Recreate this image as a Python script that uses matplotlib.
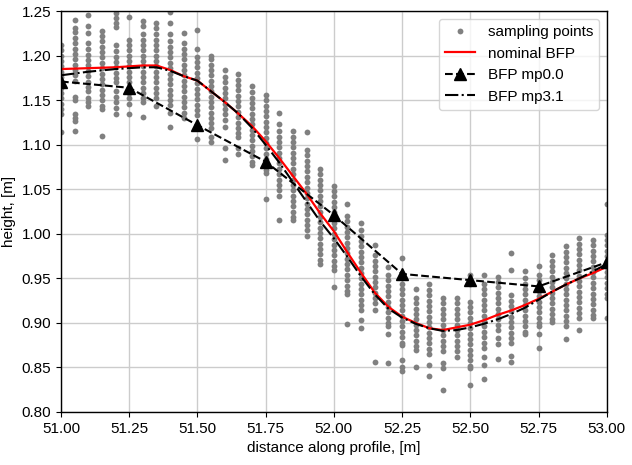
import matplotlib
matplotlib.use('Agg')
import matplotlib.pyplot as plt

plt.rcParams['font.family'] = ['Liberation Sans', 'DejaVu Sans']
plt.rcParams['font.size'] = 11

# columns of sampling points, one every 0.05 m
sample_x = [51.00, 51.05, 51.10, 51.15, 51.20, 51.25, 51.30, 51.35, 51.40, 51.45,
            51.50, 51.55, 51.60, 51.65, 51.70, 51.75, 51.80, 51.85, 51.90, 51.95,
            52.00, 52.05, 52.10, 52.15, 52.20, 52.25, 52.30, 52.35, 52.40, 52.45,
            52.50, 52.55, 52.60, 52.65, 52.70, 52.75, 52.80, 52.85, 52.90, 52.95,
            53.00]

sample_h = [
    [1.212, 1.206, 1.200, 1.194, 1.188, 1.182, 1.176, 1.170, 1.164, 1.158, 1.152, 1.146, 1.140, 1.134, 1.114],
    [1.240, 1.231, 1.227, 1.220, 1.214, 1.208, 1.202, 1.196, 1.190, 1.184, 1.178, 1.172, 1.154, 1.150, 1.135, 1.130, 1.127, 1.115],
    [1.246, 1.233, 1.225, 1.214, 1.207, 1.201, 1.195, 1.189, 1.183, 1.177, 1.171, 1.165, 1.160, 1.152, 1.148, 1.143],
    [1.228, 1.222, 1.216, 1.210, 1.204, 1.198, 1.192, 1.186, 1.180, 1.174, 1.168, 1.162, 1.156, 1.150, 1.144, 1.140, 1.110],
    [1.248, 1.242, 1.237, 1.232, 1.212, 1.205, 1.199, 1.193, 1.187, 1.181, 1.175, 1.170, 1.160, 1.154, 1.148, 1.141, 1.135],
    [1.244, 1.218, 1.212, 1.206, 1.200, 1.194, 1.188, 1.182, 1.176, 1.170, 1.164, 1.158, 1.152, 1.146, 1.134],
    [1.239, 1.233, 1.224, 1.218, 1.212, 1.206, 1.200, 1.194, 1.188, 1.182, 1.176, 1.170, 1.164, 1.158, 1.152, 1.148, 1.131],
    [1.237, 1.231, 1.224, 1.218, 1.212, 1.206, 1.200, 1.194, 1.188, 1.182, 1.176, 1.170, 1.164, 1.158, 1.152, 1.143],
    [1.249, 1.237, 1.224, 1.216, 1.210, 1.204, 1.198, 1.192, 1.186, 1.180, 1.174, 1.168, 1.162, 1.156, 1.150, 1.145, 1.136, 1.120],
    [1.225, 1.214, 1.208, 1.202, 1.196, 1.190, 1.184, 1.178, 1.172, 1.166, 1.160, 1.154, 1.148, 1.142, 1.136, 1.130],
    [1.229, 1.207, 1.199, 1.193, 1.187, 1.181, 1.175, 1.169, 1.163, 1.157, 1.151, 1.145, 1.139, 1.133, 1.120, 1.107],
    [1.200, 1.196, 1.190, 1.184, 1.178, 1.172, 1.166, 1.160, 1.154, 1.148, 1.142, 1.136, 1.130, 1.124, 1.119, 1.109, 1.103],
    [1.184, 1.176, 1.170, 1.164, 1.158, 1.152, 1.146, 1.140, 1.134, 1.128, 1.120, 1.096, 1.083],
    [1.180, 1.173, 1.167, 1.161, 1.155, 1.149, 1.143, 1.137, 1.131, 1.125, 1.119, 1.113, 1.109, 1.096, 1.090],
    [1.166, 1.159, 1.153, 1.147, 1.141, 1.135, 1.129, 1.123, 1.117, 1.111, 1.105, 1.099, 1.093, 1.087, 1.081, 1.077],
    [1.156, 1.150, 1.144, 1.138, 1.132, 1.126, 1.120, 1.114, 1.108, 1.102, 1.096, 1.090, 1.084, 1.078, 1.072, 1.068, 1.039],
    [1.136, 1.123, 1.115, 1.109, 1.103, 1.097, 1.091, 1.085, 1.079, 1.073, 1.067, 1.061, 1.055, 1.049, 1.043, 1.016],
    [1.116, 1.109, 1.103, 1.097, 1.091, 1.085, 1.079, 1.073, 1.067, 1.061, 1.055, 1.049, 1.043, 1.037, 1.031, 1.025, 1.019, 1.015],
    [1.114, 1.094, 1.088, 1.082, 1.076, 1.070, 1.064, 1.058, 1.052, 1.046, 1.040, 1.034, 1.028, 1.022, 1.016, 1.010, 1.004, 0.998],
    [1.073, 1.067, 1.061, 1.055, 1.049, 1.043, 1.037, 1.031, 1.025, 1.019, 1.013, 1.007, 1.001, 0.995, 0.989, 0.983, 0.977, 0.971, 0.966],
    [1.054, 1.048, 1.042, 1.036, 1.030, 1.024, 1.018, 1.012, 1.006, 1.000, 0.994, 0.988, 0.982, 0.976, 0.970, 0.964, 0.959, 0.940],
    [1.033, 1.020, 1.014, 1.008, 1.002, 0.996, 0.990, 0.984, 0.978, 0.972, 0.966, 0.960, 0.954, 0.948, 0.942, 0.936, 0.933, 0.899],
    [1.012, 1.004, 0.998, 0.992, 0.986, 0.980, 0.974, 0.968, 0.962, 0.956, 0.950, 0.944, 0.938, 0.932, 0.926, 0.920, 0.915, 0.903, 0.894],
    [0.987, 0.976, 0.970, 0.964, 0.958, 0.952, 0.946, 0.940, 0.934, 0.928, 0.922, 0.915, 0.856],
    [0.963, 0.954, 0.948, 0.942, 0.936, 0.930, 0.924, 0.918, 0.912, 0.906, 0.900, 0.896, 0.888, 0.855],
    [0.973, 0.950, 0.944, 0.938, 0.932, 0.926, 0.920, 0.914, 0.908, 0.902, 0.896, 0.890, 0.884, 0.878, 0.875, 0.858, 0.851, 0.846],
    [0.938, 0.928, 0.922, 0.916, 0.910, 0.904, 0.898, 0.892, 0.886, 0.880, 0.874, 0.870, 0.851],
    [0.944, 0.937, 0.931, 0.925, 0.919, 0.913, 0.907, 0.901, 0.895, 0.889, 0.883, 0.877, 0.871, 0.865, 0.853, 0.840],
    [0.928, 0.922, 0.916, 0.910, 0.904, 0.898, 0.892, 0.886, 0.880, 0.874, 0.868, 0.855, 0.849, 0.825],
    [0.928, 0.922, 0.916, 0.910, 0.904, 0.898, 0.892, 0.886, 0.880, 0.874, 0.868, 0.862],
    [0.954, 0.944, 0.924, 0.918, 0.912, 0.906, 0.900, 0.894, 0.888, 0.882, 0.876, 0.870, 0.864, 0.858, 0.852, 0.849, 0.830],
    [0.954, 0.944, 0.938, 0.932, 0.926, 0.920, 0.914, 0.908, 0.902, 0.896, 0.890, 0.884, 0.878, 0.872, 0.862, 0.853, 0.837],
    [0.951, 0.946, 0.940, 0.934, 0.928, 0.922, 0.916, 0.910, 0.904, 0.898, 0.892, 0.883, 0.876, 0.859],
    [0.979, 0.959, 0.931, 0.925, 0.919, 0.913, 0.907, 0.901, 0.895, 0.889, 0.883, 0.877, 0.863, 0.856],
    [0.958, 0.950, 0.944, 0.938, 0.932, 0.926, 0.920, 0.914, 0.908, 0.902, 0.896, 0.890, 0.887],
    [0.964, 0.954, 0.948, 0.942, 0.936, 0.930, 0.924, 0.918, 0.912, 0.906, 0.900, 0.896, 0.888, 0.872],
    [0.976, 0.970, 0.964, 0.958, 0.952, 0.946, 0.940, 0.934, 0.928, 0.922, 0.916, 0.910, 0.904, 0.901],
    [0.986, 0.980, 0.974, 0.968, 0.962, 0.956, 0.950, 0.944, 0.938, 0.932, 0.926, 0.920, 0.914, 0.908, 0.902, 0.896, 0.882],
    [0.995, 0.989, 0.983, 0.977, 0.971, 0.965, 0.959, 0.953, 0.947, 0.941, 0.935, 0.929, 0.923, 0.917, 0.911, 0.905, 0.892],
    [0.993, 0.987, 0.981, 0.975, 0.969, 0.963, 0.957, 0.951, 0.945, 0.939, 0.933, 0.927, 0.921, 0.915, 0.909, 0.905],
    [1.033, 0.999, 0.993, 0.987, 0.981, 0.975, 0.969, 0.963, 0.957, 0.951, 0.945, 0.939, 0.933, 0.928, 0.906],
]

# best fit profiles
bfp_x = [51.00, 51.10, 51.20, 51.30, 51.35, 51.40, 51.45, 51.50, 51.55, 51.60,
         51.65, 51.70, 51.75, 51.80, 51.85, 51.90, 51.95, 52.00, 52.05, 52.10,
         52.15, 52.20, 52.25, 52.30, 52.35, 52.40, 52.45, 52.50, 52.55, 52.60,
         52.65, 52.70, 52.75, 52.80, 52.85, 52.90, 52.95, 53.00]
nominal = [1.185, 1.186, 1.187, 1.189, 1.189, 1.184, 1.177, 1.172, 1.160, 1.148,
           1.135, 1.121, 1.104, 1.085, 1.065, 1.045, 1.023, 1.003, 0.979, 0.956,
           0.934, 0.918, 0.907, 0.900, 0.894, 0.892, 0.895, 0.898, 0.903, 0.909,
           0.914, 0.920, 0.927, 0.935, 0.943, 0.950, 0.956, 0.963]
mp31 = [1.178, 1.182, 1.185, 1.187, 1.187, 1.183, 1.177, 1.172, 1.160, 1.148,
        1.135, 1.119, 1.100, 1.080, 1.058, 1.036, 1.014, 0.995, 0.974, 0.952,
        0.932, 0.916, 0.906, 0.899, 0.894, 0.891, 0.892, 0.895, 0.899, 0.904,
        0.910, 0.917, 0.926, 0.935, 0.943, 0.950, 0.958, 0.966]

mp0_x = [51.00, 51.25, 51.50, 51.75, 52.00, 52.25, 52.50, 52.75, 53.00]
mp0 = [1.171, 1.164, 1.122, 1.081, 1.021, 0.955, 0.948, 0.941, 0.968]

fig = plt.figure(figsize=(6.32, 4.65), dpi=100)
ax = fig.add_axes([0.0965, 0.114, 0.8635, 0.862])

for i, (x, hs) in enumerate(zip(sample_x, sample_h)):
    ax.plot([x] * len(hs), hs, 'o', color='gray', markersize=4.2, markeredgewidth=0,
            label='sampling points' if i == 0 else None)

ax.plot(bfp_x, nominal, '-', color='red', lw=1.6, label='nominal BFP')
ax.plot(mp0_x, mp0, '--', color='black', lw=1.5, marker='^', markersize=8, label='BFP mp0.0')
ax.plot(bfp_x, mp31, '-.', color='black', lw=1.5, label='BFP mp3.1')

ax.set_xlim(51, 53)
ax.set_ylim(0.80, 1.25)
ax.set_xticks([51.00, 51.25, 51.50, 51.75, 52.00, 52.25, 52.50, 52.75, 53.00])
ax.set_xticklabels(['51.00', '51.25', '51.50', '51.75', '52.00', '52.25', '52.50', '52.75', '53.00'])
ax.set_yticks([0.80, 0.85, 0.90, 0.95, 1.00, 1.05, 1.10, 1.15, 1.20, 1.25])
ax.set_yticklabels(['0.80', '0.85', '0.90', '0.95', '1.00', '1.05', '1.10', '1.15', '1.20', '1.25'])
ax.grid(True, color='#cccccc', lw=1.0)
for s in ax.spines.values():
    s.set_linewidth(1.0)
ax.set_xlabel('distance along profile, [m]')
ax.set_ylabel('height, [m]')
ax.legend(loc='upper right', fontsize=11)

fig.savefig('out.png', dpi=100)
